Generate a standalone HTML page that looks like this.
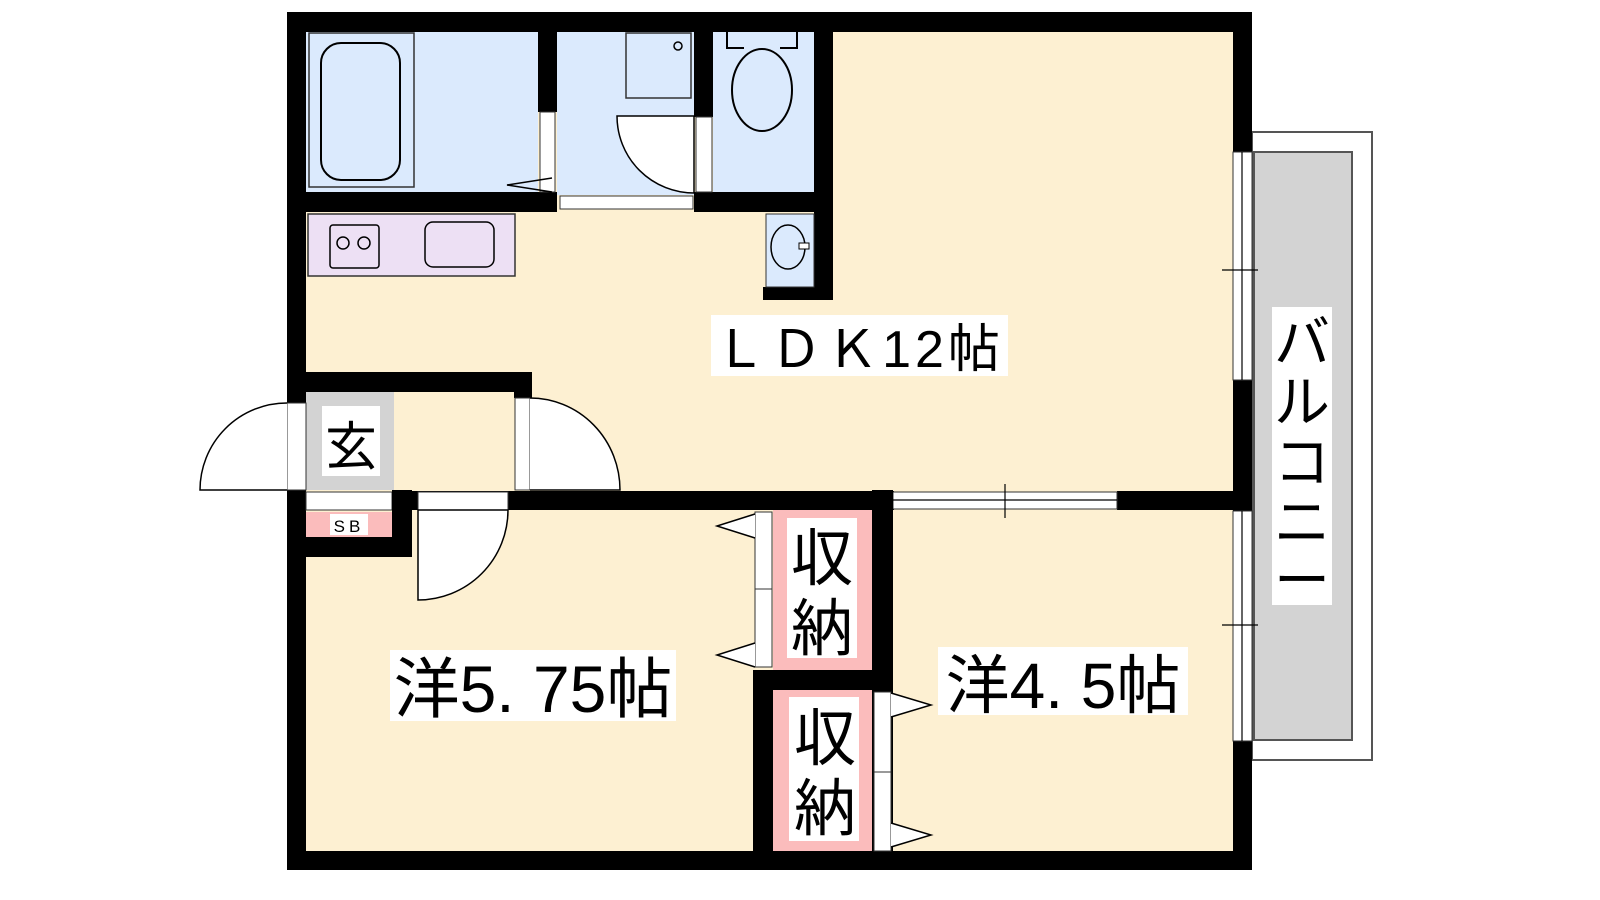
<!DOCTYPE html>
<html><head><meta charset="utf-8"><style>
html,body{margin:0;padding:0;background:#fff;width:1600px;height:900px;overflow:hidden}
svg{display:block}
text{font-family:"Liberation Sans","Noto Sans CJK JP",sans-serif;fill:#000}
</style></head><body>
<svg width="1600" height="900" viewBox="0 0 1600 900" xmlns="http://www.w3.org/2000/svg">
<!-- balcony -->
<rect x="1252" y="132" width="120" height="628" fill="#fff" stroke="#555" stroke-width="2"/>
<rect x="1254" y="152" width="98" height="588" fill="#d3d3d3" stroke="#555" stroke-width="2"/>
<!-- outer walls -->
<rect x="287" y="12" width="965" height="858" fill="#000"/>
<!-- floor -->
<rect x="306" y="32" width="927" height="819" fill="#fdf0d2"/>
<!-- bath -->
<rect x="306" y="32" width="232" height="160" fill="#dbeafd"/>
<rect x="309" y="33" width="105" height="154" fill="none" stroke="#333" stroke-width="1.5"/>
<rect x="321" y="43" width="79" height="137" rx="20" fill="none" stroke="#000" stroke-width="2"/>
<!-- wash -->
<rect x="557" y="32" width="137" height="163" fill="#dbeafd"/>
<rect x="626" y="33" width="65" height="65" fill="none" stroke="#333" stroke-width="1.5"/>
<circle cx="678" cy="46" r="4" fill="none" stroke="#000" stroke-width="1.5"/>
<!-- toilet -->
<rect x="713" y="32" width="101" height="162" fill="#dbeafd"/>
<path d="M727 32 V48 H744 M797 32 V48 H780" fill="none" stroke="#000" stroke-width="2"/>
<ellipse cx="762" cy="90" rx="30" ry="41" fill="none" stroke="#000" stroke-width="2"/>
<!-- walls interior -->
<rect x="538" y="32" width="19" height="80" fill="#000"/>
<rect x="287" y="192" width="270" height="20" fill="#000"/>
<rect x="694" y="32" width="19" height="85" fill="#000"/>
<rect x="694" y="192" width="139" height="20" fill="#000"/>
<rect x="814" y="32" width="19" height="268" fill="#000"/>
<rect x="763" y="287" width="70" height="13" fill="#000"/>
<!-- bath door -->
<rect x="540" y="112" width="15" height="80" fill="#fff" stroke="#333" stroke-width="1"/>
<path d="M552 178 L507 185 L552 192" fill="none" stroke="#000" stroke-width="1.5"/>
<!-- wash sliding -->
<rect x="560" y="196" width="133" height="13" fill="#fff" stroke="#333" stroke-width="1"/>
<!-- toilet door -->
<rect x="696" y="117" width="16" height="75" fill="#fff" stroke="#333" stroke-width="1"/>
<path d="M617 116 H694 V193 A77 77 0 0 1 617 116 Z" fill="#fff" stroke="#000" stroke-width="1.5"/>
<!-- sink -->
<rect x="766" y="214" width="48" height="73" fill="#dbeafd" stroke="#333" stroke-width="1"/>
<ellipse cx="788" cy="247" rx="17" ry="22" fill="none" stroke="#000" stroke-width="1.5"/>
<rect x="799" y="243" width="10" height="6" fill="#fff" stroke="#000" stroke-width="1"/>
<!-- kitchen -->
<rect x="308" y="214" width="207" height="62" fill="#ede0f4" stroke="#333" stroke-width="1.5"/>
<rect x="330" y="225" width="49" height="43" rx="3" fill="none" stroke="#000" stroke-width="1.5"/>
<circle cx="343" cy="243" r="6" fill="none" stroke="#000" stroke-width="1.5"/>
<circle cx="364" cy="243" r="6" fill="none" stroke="#000" stroke-width="1.5"/>
<rect x="425" y="222" width="69" height="45" rx="8" fill="none" stroke="#000" stroke-width="1.5"/>
<!-- entrance -->
<rect x="287" y="372" width="245" height="20" fill="#000"/>
<rect x="514" y="372" width="18" height="26" fill="#000"/>
<rect x="306" y="392" width="88" height="98" fill="#d3d3d3"/>
<rect x="287" y="403" width="19" height="87" fill="#fff" stroke="#333" stroke-width="1"/>
<path d="M287 403 A87 87 0 0 0 200 490 H287" fill="#fff" stroke="#000" stroke-width="1.5"/>
<rect x="515" y="398" width="15" height="92" fill="#fff" stroke="#333" stroke-width="1"/>
<path d="M530 398 A90 92 0 0 1 620 490 H530" fill="#fff" stroke="#000" stroke-width="1.5"/>
<rect x="322" y="406" width="58" height="70" fill="#fff"/>
<text x="351" y="465" font-size="52" text-anchor="middle">玄</text>
<!-- mid wall -->
<rect x="394" y="491" width="500" height="19" fill="#000"/>
<rect x="1117" y="491" width="116" height="19" fill="#000"/>
<rect x="893" y="492" width="224" height="17" fill="#fff" stroke="#333" stroke-width="1"/>
<path d="M893 500 H1117 M1005 484 V518 M980 500 H1030" stroke="#000" stroke-width="1.2"/>
<!-- SB -->
<rect x="306" y="492" width="86" height="18" fill="#fff" stroke="#333" stroke-width="1"/>
<rect x="306" y="512" width="86" height="25" fill="#fbbcbc"/>
<rect x="330" y="514" width="38" height="21" fill="#fff"/>
<text x="349" y="532" font-size="17" text-anchor="middle" letter-spacing="4">SB</text>
<rect x="287" y="537" width="125" height="20" fill="#000"/>
<rect x="392" y="490" width="20" height="67" fill="#000"/>
<!-- bedroom door -->
<rect x="418" y="492" width="90" height="18" fill="#fff" stroke="#333" stroke-width="1"/>
<path d="M418 510 H508 A90 90 0 0 1 418 600 Z" fill="#fff" stroke="#000" stroke-width="1.5"/>
<!-- closets -->
<rect x="872" y="490" width="21" height="380" fill="#000"/>
<rect x="753" y="670" width="140" height="20" fill="#000"/>
<rect x="753" y="670" width="20" height="200" fill="#000"/>
<rect x="773" y="510" width="99" height="160" fill="#fbbcbc"/>
<rect x="755" y="512" width="17" height="77" fill="#fff" stroke="#333" stroke-width="1"/>
<rect x="755" y="589" width="17" height="78" fill="#fff" stroke="#333" stroke-width="1"/>
<path d="M755 514 L717 526 L755 538 M755 643 L717 655 L755 667" fill="#fff" stroke="#000" stroke-width="1.5"/>
<rect x="787" y="518" width="70" height="140" fill="#fff"/>
<text x="822" y="580" font-size="62" text-anchor="middle">収</text>
<text x="822" y="650" font-size="62" text-anchor="middle">納</text>
<rect x="773" y="690" width="99" height="161" fill="#fbbcbc"/>
<rect x="874" y="692" width="17" height="80" fill="#fff" stroke="#333" stroke-width="1"/>
<rect x="874" y="772" width="17" height="79" fill="#fff" stroke="#333" stroke-width="1"/>
<path d="M891 693 L931 705 L891 717 M891 823 L931 835 L891 847" fill="#fff" stroke="#000" stroke-width="1.5"/>
<rect x="789" y="697" width="70" height="144" fill="#fff"/>
<text x="825" y="760" font-size="62" text-anchor="middle">収</text>
<text x="825" y="830" font-size="62" text-anchor="middle">納</text>
<!-- right windows -->
<rect x="1233" y="152" width="19" height="228" fill="#fff" stroke="#333" stroke-width="1"/>
<path d="M1242 152 V380 M1222 270 H1258" stroke="#000" stroke-width="1.2"/>
<rect x="1233" y="511" width="19" height="230" fill="#fff" stroke="#333" stroke-width="1"/>
<path d="M1242 511 V741 M1222 625 H1258" stroke="#000" stroke-width="1.2"/>
<!-- labels -->
<rect x="711" y="315" width="297" height="61" fill="#fff"/>
<text x="859" y="367" font-size="52" text-anchor="middle" letter-spacing="4">ＬＤＫ12帖</text>
<rect x="390" y="650" width="286" height="71" fill="#fff"/>
<text x="533" y="712" font-size="66" text-anchor="middle">洋5. 75帖</text>
<rect x="938" y="647" width="250" height="68" fill="#fff"/>
<text x="1063" y="708" font-size="64" text-anchor="middle">洋4. 5帖</text>
<rect x="1272" y="307" width="60" height="298" fill="#fff"/>
<text font-size="56" text-anchor="middle"><tspan x="1302" y="362">バ</tspan><tspan x="1302" y="422">ル</tspan><tspan x="1302" y="482">コ</tspan><tspan x="1302" y="542">ニ</tspan><tspan x="1302" y="600">ー</tspan></text>
</svg>
</body></html>
